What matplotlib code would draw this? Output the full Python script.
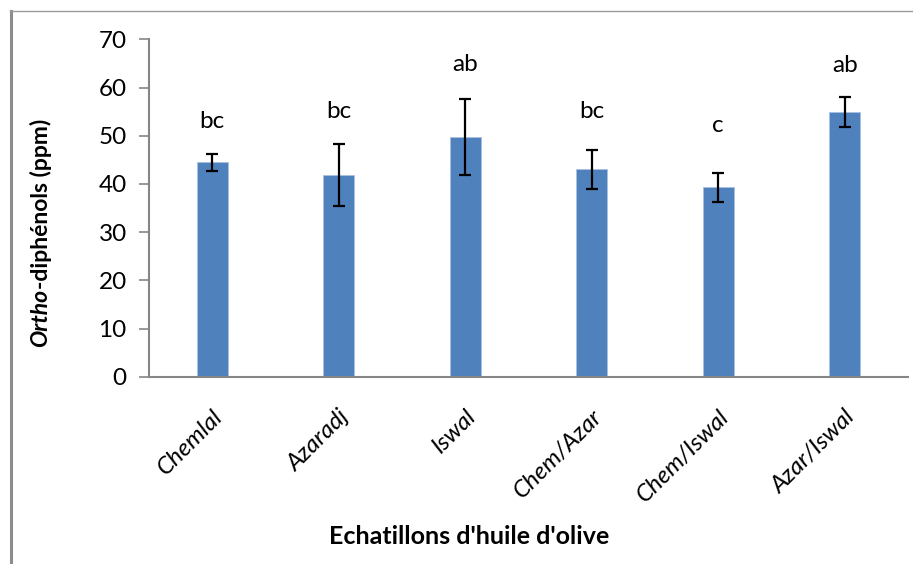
import matplotlib
matplotlib.use("Agg")
import matplotlib.pyplot as plt
from matplotlib.lines import Line2D

categories = ["Chemlal", "Azaradj", "Iswal", "Chem/Azar", "Chem/Iswal", "Azar/Iswal"]
means = [44.5, 41.8, 49.7, 43.0, 39.3, 54.9]
errors = [1.8, 6.4, 7.9, 4.1, 3.05, 3.1]
letters = ["bc", "bc", "ab", "bc", "c", "ab"]
letter_y = [51.7, 53.6, 63.5, 53.6, 50.8, 63.3]
yticks = [0, 10, 20, 30, 40, 50, 60, 70]

plt.rcParams['font.family'] = ['Lato', 'DejaVu Sans']
FS = 17.5
W, H = 913, 564
fig = plt.figure(figsize=(W / 100, H / 100), dpi=100)
ax = fig.add_axes([149 / W, 1 - 376.7 / H, (908 - 149) / W, (376.7 - 39.3) / H])

x = list(range(len(categories)))
ax.bar(x, means, width=0.245, color="#4F81BD", edgecolor="#a9c1e0", linewidth=0.6, zorder=2)
ax.errorbar(x, means, yerr=errors, fmt="none", ecolor="black", elinewidth=1.6,
            capsize=4.5, capthick=1.6, zorder=3)
for xi, lab, ly in zip(x, letters, letter_y):
    ax.text(xi, ly, lab, ha="center", va="baseline", fontsize=FS)

ax.set_xlim(-0.5, len(categories) - 0.5)
ax.set_ylim(0, 70)
ax.set_yticks(yticks)
ax.set_yticklabels([str(v) for v in yticks], fontsize=FS)
ax.set_xticks(x)
ax.set_xticklabels(categories, rotation=45, ha="right", rotation_mode="anchor",
                   fontsize=FS, style="italic")
ax.tick_params(axis="x", length=0, pad=21)
ax.tick_params(axis="y", length=7, width=1.2, color="#868686", pad=9)
for s in ["top", "right"]:
    ax.spines[s].set_visible(False)
for s in ["left", "bottom"]:
    ax.spines[s].set_color("#868686")
    ax.spines[s].set_linewidth(1.5)

# x label
fig.text(469 / W, 1 - 537 / H, "Echatillons d'huile d'olive", ha="center", va="center",
         fontsize=18, fontweight="bold")

# y label (two pieces: bold italic "Ortho" + bold rest)
px, py = 41 / W, 1 - 313 / H
t1 = fig.text(px, py, "Ortho", rotation=90, rotation_mode="anchor", ha="right", va="center",
              fontsize=16.5, fontweight="bold", style="italic")
t2 = fig.text(px, py, "-diphénols (ppm)", rotation=90, rotation_mode="anchor", ha="left",
              va="center", fontsize=16.5, fontweight="bold")
fig.canvas.draw()
r = fig.canvas.get_renderer()
b1 = t1.get_window_extent(r)
b2 = t2.get_window_extent(r)
center = (b1.y0 + b2.y1) / 2
target = H - 233
shift = (target - center) / H
t1.set_position((px, py + shift))
t2.set_position((px, py + shift))

# outer frame (left and top)
fig.add_artist(Line2D([11 / W, 11 / W], [0, 1 - 11 / H], transform=fig.transFigure,
                      color="#8c8c8c", linewidth=2.2))
fig.add_artist(Line2D([10 / W, 1], [1 - 11 / H, 1 - 11 / H], transform=fig.transFigure,
                      color="#9a9a9a", linewidth=1.0))

fig.savefig("out.png", dpi=100)
